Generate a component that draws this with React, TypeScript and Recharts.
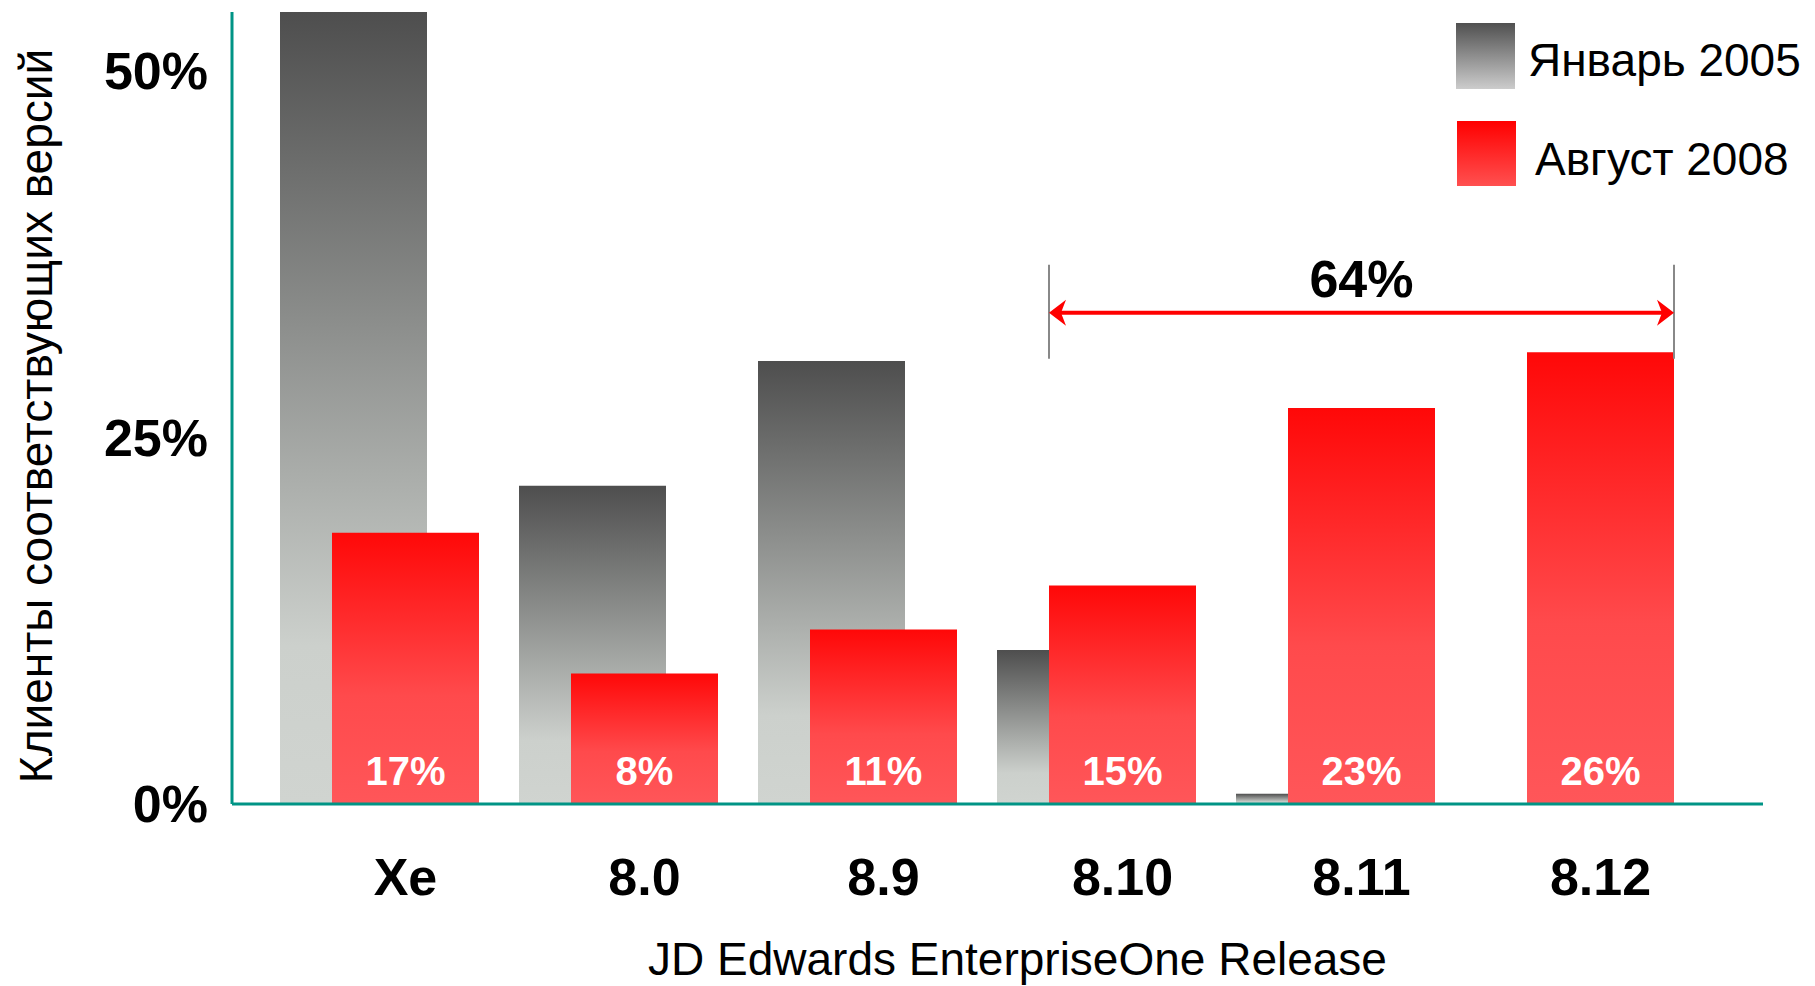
import { BarChart, Bar, XAxis, YAxis, Legend, LabelList, ReferenceLine } from "recharts";

const releases = ["Xe", "8.0", "8.9", "8.10", "8.11", "8.12"];
const jan2005 = [54, 21.7, 30.2, 10.5, 0.7, 0];
const aug2008 = [18.5, 8.9, 11.9, 14.9, 27.0, 30.8];
const aug2008Labels = ["17%", "8%", "11%", "15%", "23%", "26%"];
const yTicks = [0, 25, 50];
const seriesNames = ["Январь 2005", "Август 2008"];
const xTitle = "JD Edwards EnterpriseOne Release";
const yTitle = "Клиенты соответствующих версий";
const spanLabel = "64%";
const spanFrom = "8.10";
const spanTo = "8.12";
const spanLevel = 33.5;

const data = releases.map((release, i) => ({
  release,
  jan: jan2005[i],
  aug: aug2008[i],
  augLabel: aug2008Labels[i],
}));

const BAR = 147;
const GAP = -95;
const TEAL = "#009485";
const FONT = "'Liberation Sans', Arial, sans-serif";

function ReleaseTick({ x, y, payload }: any) {
  return (
    <text
      x={x + (BAR + GAP) / 2}
      y={y + 72}
      dy="0.36em"
      textAnchor="middle"
      fontSize={52}
      fontWeight="bold"
      fill="#000"
    >
      {payload.value}
    </text>
  );
}

function InsideLabel({ x, y, width, height, value }: any) {
  return (
    <text
      x={x + width / 2}
      y={y + height - 33}
      dy="0.36em"
      textAnchor="middle"
      fontSize={40}
      fontWeight="bold"
      fill="#fff"
    >
      {value}
    </text>
  );
}

function XTitle({ viewBox }: any) {
  const { x, y, width } = viewBox;
  return (
    <text x={x + width / 2 + 20} y={y + 154} dy="0.36em" textAnchor="middle" fontSize={46} fill="#000">
      {xTitle}
    </text>
  );
}

function YTitle({ viewBox }: any) {
  const { y, height } = viewBox;
  return (
    <text
      transform={`translate(35, ${y + height / 2 + 8}) rotate(-90)`}
      dy="0.36em"
      textAnchor="middle"
      fontSize={46}
      fill="#000"
    >
      {yTitle}
    </text>
  );
}

function SpanArrow({ x1, x2, y1 }: any) {
  const left = x1 + GAP / 2;
  const right = x2 + BAR + GAP / 2;
  const y = y1;
  return (
    <g>
      <line x1={left} y1={y - 48} x2={left} y2={y + 46} stroke="#888" strokeWidth={2} />
      <line x1={right} y1={y - 48} x2={right} y2={y + 46} stroke="#888" strokeWidth={2} />
      <line x1={left + 10} y1={y} x2={right - 10} y2={y} stroke="#ff0000" strokeWidth={4} />
      <polygon
        points={`${left},${y} ${left + 17},${y - 13} ${left + 12},${y} ${left + 17},${y + 13}`}
        fill="#ff0000"
      />
      <polygon
        points={`${right},${y} ${right - 17},${y - 13} ${right - 12},${y} ${right - 17},${y + 13}`}
        fill="#ff0000"
      />
      <text
        x={(left + right) / 2}
        y={y - 34}
        dy="0.36em"
        textAnchor="middle"
        fontSize={52}
        fontWeight="bold"
        fill="#000"
      >
        {spanLabel}
      </text>
    </g>
  );
}

function SeriesLegend() {
  const text = { position: "absolute" as const, fontSize: 46, lineHeight: "66px", color: "#000", whiteSpace: "nowrap" as const };
  return (
    <div style={{ position: "relative", width: 359, height: 170, fontFamily: FONT }}>
      <div style={{ position: "absolute", left: 0, top: 0, width: 59, height: 66, background: "linear-gradient(#505050, #cccccc)" }} />
      <div style={{ ...text, left: 72, top: 4 }}>{seriesNames[0]}</div>
      <div style={{ position: "absolute", left: 1, top: 98, width: 59, height: 65, background: "linear-gradient(#ff0000, #ff5050)" }} />
      <div style={{ ...text, left: 79, top: 103 }}>{seriesNames[1]}</div>
    </div>
  );
}

export default function App() {
  return (
    <div style={{ position: "absolute", left: 0, top: 0, fontFamily: FONT, background: "#fff" }}>
      <BarChart
        width={1815}
        height={986}
        data={data}
        margin={{ top: 12, right: 52, left: 0, bottom: 0 }}
        barSize={BAR}
        barGap={GAP}
      >
        <defs>
          <linearGradient id="grayFill" x1="0" y1="0" x2="0" y2="1">
            <stop offset="0" stopColor="#4e4e4e" />
            <stop offset="0.8" stopColor="#ccd0cc" />
            <stop offset="1" stopColor="#d0d4d0" />
          </linearGradient>
          <linearGradient id="redFill" x1="0" y1="0" x2="0" y2="1">
            <stop offset="0" stopColor="#ff0808" />
            <stop offset="0.6" stopColor="#ff4a4c" />
            <stop offset="1" stopColor="#ff5659" />
          </linearGradient>
        </defs>
        <XAxis
          dataKey="release"
          height={182}
          padding={{ left: 28, right: 69 }}
          axisLine={{ stroke: TEAL, strokeWidth: 3 }}
          tickLine={false}
          tickSize={0}
          tickMargin={0}
          tick={<ReleaseTick />}
          interval={0}
          label={<XTitle />}
        />
        <YAxis
          width={232}
          domain={[0, 54]}
          ticks={yTicks}
          tickFormatter={(v) => `${v}%`}
          axisLine={{ stroke: TEAL, strokeWidth: 3 }}
          tickLine={false}
          tickSize={0}
          tickMargin={24}
          tick={{ fill: "#000", fontSize: 52, fontWeight: "bold" }}
          label={<YTitle />}
        />
        <Legend
          layout="vertical"
          align="center"
          verticalAlign="middle"
          wrapperStyle={{ top: 23, left: 1456, width: 359, height: 170 }}
          content={() => <SeriesLegend />}
        />
        <Bar dataKey="jan" name={seriesNames[0]} fill="url(#grayFill)" isAnimationActive={false} />
        <Bar dataKey="aug" name={seriesNames[1]} fill="url(#redFill)" isAnimationActive={false}>
          <LabelList dataKey="augLabel" content={<InsideLabel />} />
        </Bar>
        <ReferenceLine
          segment={[
            { x: spanFrom, y: spanLevel },
            { x: spanTo, y: spanLevel },
          ]}
          ifOverflow="visible"
          shape={(p: any) => <SpanArrow {...p} />}
        />
      </BarChart>
    </div>
  );
}
